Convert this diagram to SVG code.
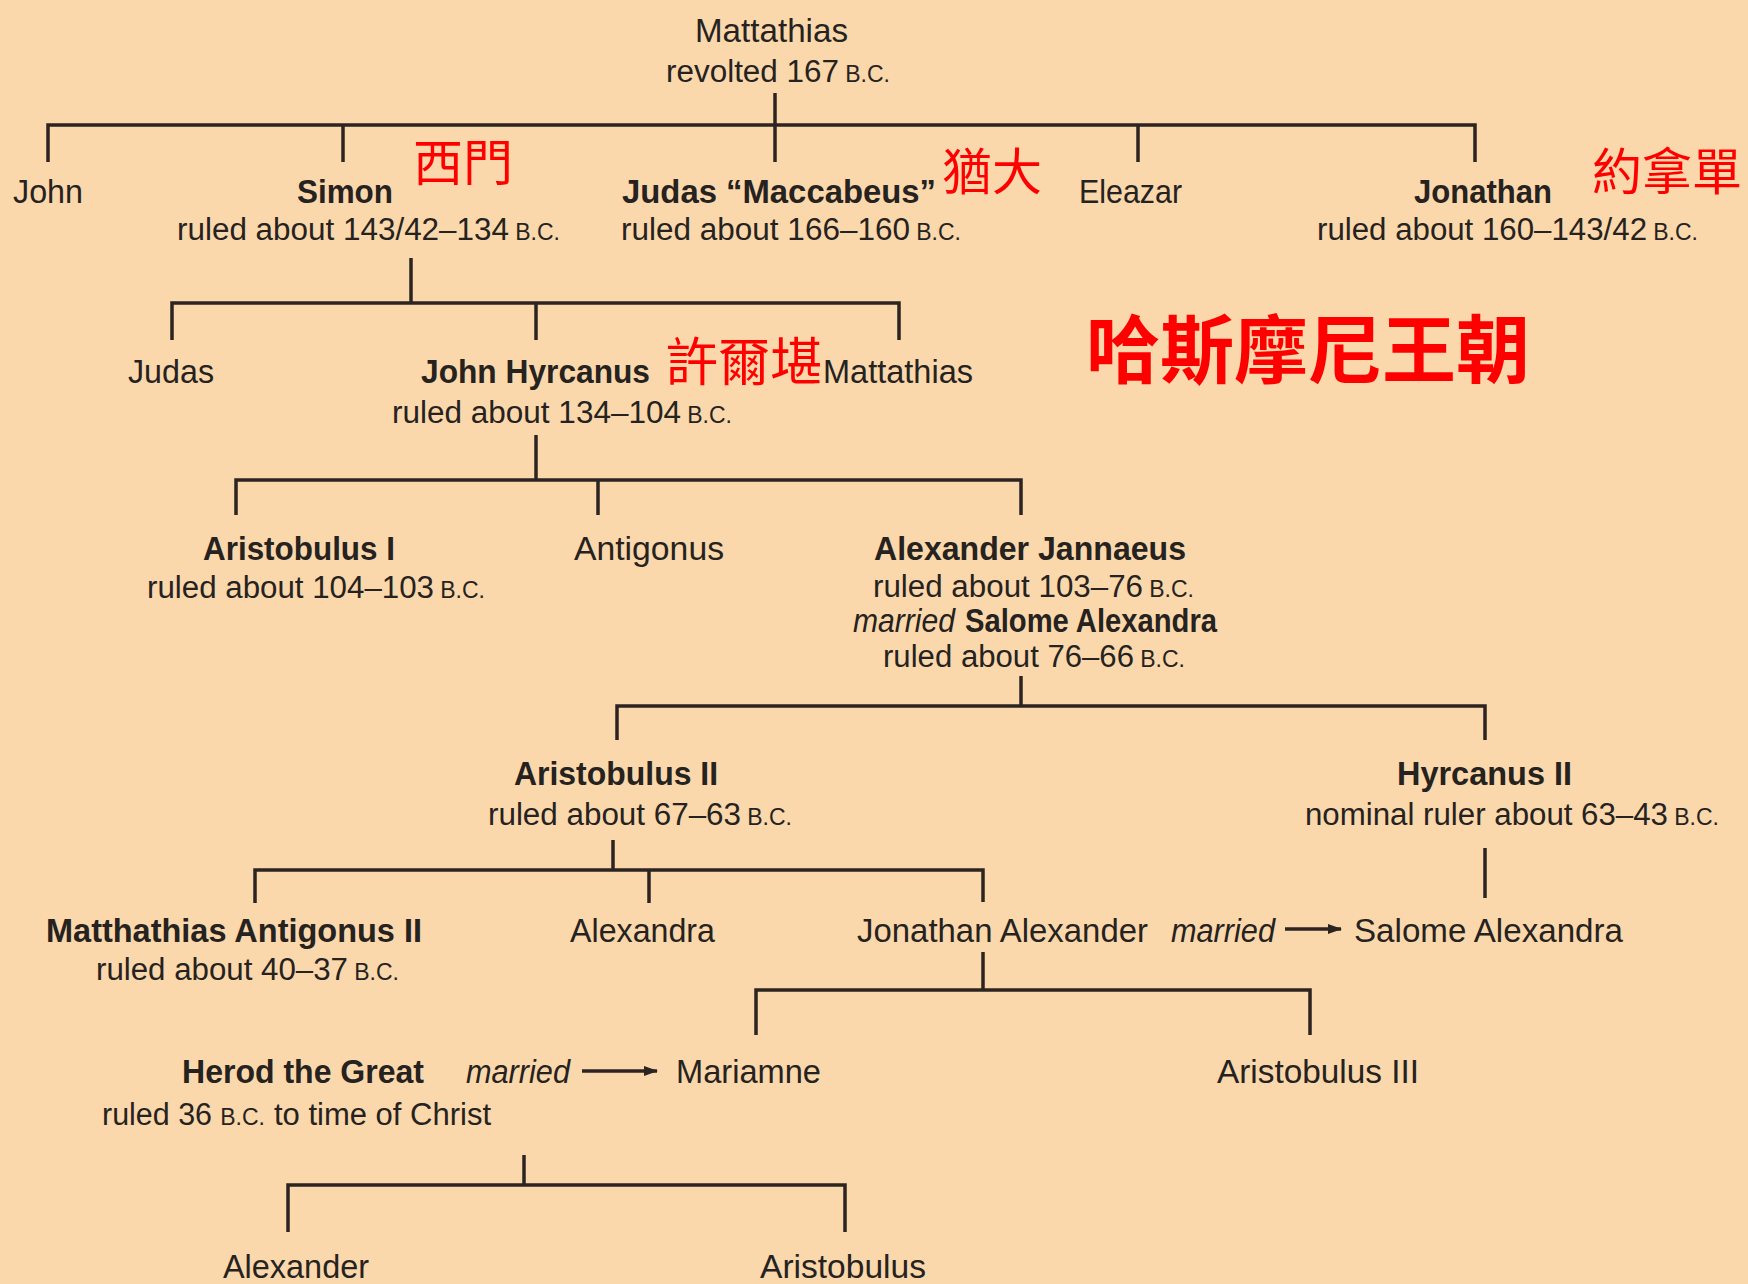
<svg xmlns="http://www.w3.org/2000/svg" width="1748" height="1284" viewBox="0 0 1748 1284">
<style>
text{font-family:"Liberation Sans",Arial,sans-serif;font-size:33px;fill:#262220}
.r{font-size:31px}
.b{font-weight:bold}
.i{font-style:italic}
.sc{font-size:23px;text-anchor:end}
.zh{font-family:"Noto Sans CJK TC","Noto Sans CJK SC",sans-serif;fill:#ff0000;font-size:50px}
.zhb{font-family:"Noto Sans CJK TC","Noto Sans CJK SC",sans-serif;fill:#ff0000;font-size:74px;font-weight:bold}
.ln{fill:none;stroke:#2b2420;stroke-width:3.5}
.ar{fill:none;stroke:#2b2420;stroke-width:3.5;marker-end:url(#ah)}
</style>
<defs>
<marker id="ah" markerUnits="userSpaceOnUse" markerWidth="14" markerHeight="12" refX="13" refY="6" orient="auto">
<path d="M0,1 L14,6 L0,11 z" fill="#2b2420"/>
</marker>
</defs>
<rect width="1748" height="1284" fill="#fad8ac"/>
<g id="connectors">
<path class="ln" d="M48,162 V125 H1475 V162"/>
<path class="ln" d="M343,125 V162"/>
<path class="ln" d="M775,93 V162"/>
<path class="ln" d="M1138,125 V162"/>
<path class="ln" d="M411,258 V303"/>
<path class="ln" d="M172,340 V303 H899 V340"/>
<path class="ln" d="M536,303 V340"/>
<path class="ln" d="M536,435 V480"/>
<path class="ln" d="M236,515 V480 H1021 V515"/>
<path class="ln" d="M598,480 V515"/>
<path class="ln" d="M1021,676 V706"/>
<path class="ln" d="M617,740 V706 H1485 V740"/>
<path class="ln" d="M613,840 V870"/>
<path class="ln" d="M255,903 V870 H983 V902"/>
<path class="ln" d="M649,870 V903"/>
<path class="ln" d="M1485,848 V898"/>
<path class="ln" d="M983,952 V990"/>
<path class="ln" d="M756,1035 V990 H1310 V1035"/>
<path class="ln" d="M524,1155 V1185"/>
<path class="ln" d="M288,1232 V1185 H845 V1232"/>
<path class="ar" d="M1285,929 H1341"/>
<path class="ar" d="M582,1071 H657"/>
</g>
<g id="n-mattathias">
<text x="695" y="42" textLength="153" lengthAdjust="spacingAndGlyphs">Mattathias</text>
<text class="r" x="666" y="82" textLength="173" lengthAdjust="spacingAndGlyphs">revolted 167</text>
<text class="sc" x="890" y="82">B.C.</text>
</g>
<g id="n-john"><text x="13" y="203" textLength="70" lengthAdjust="spacingAndGlyphs">John</text></g>
<g id="n-simon">
<text class="b" x="297" y="203" textLength="96" lengthAdjust="spacingAndGlyphs">Simon</text>
<text class="r" x="177" y="240" textLength="332" lengthAdjust="spacingAndGlyphs">ruled about 143/42–134</text>
<text class="sc" x="560" y="240">B.C.</text>
<text class="zh" x="413" y="181">西門</text>
</g>
<g id="n-judas-maccabeus">
<text class="b" x="622" y="203" textLength="314" lengthAdjust="spacingAndGlyphs">Judas “Maccabeus”</text>
<text class="r" x="621" y="240" textLength="289" lengthAdjust="spacingAndGlyphs">ruled about 166–160</text>
<text class="sc" x="961" y="240">B.C.</text>
<text class="zh" x="942" y="190">猶大</text>
</g>
<g id="n-eleazar"><text x="1079" y="203" textLength="103" lengthAdjust="spacingAndGlyphs">Eleazar</text></g>
<g id="n-jonathan">
<text class="b" x="1414" y="203" textLength="138" lengthAdjust="spacingAndGlyphs">Jonathan</text>
<text class="r" x="1317" y="240" textLength="330" lengthAdjust="spacingAndGlyphs">ruled about 160–143/42</text>
<text class="sc" x="1698" y="240">B.C.</text>
<text class="zh" x="1592" y="190">約拿單</text>
</g>
<g id="title"><text class="zhb" x="1086" y="377">哈斯摩尼王朝</text></g>
<g id="n-judas"><text x="128" y="383" textLength="86" lengthAdjust="spacingAndGlyphs">Judas</text></g>
<g id="n-john-hyrcanus">
<text class="b" x="421" y="383" textLength="229" lengthAdjust="spacingAndGlyphs">John Hyrcanus</text>
<text class="r" x="392" y="423" textLength="289" lengthAdjust="spacingAndGlyphs">ruled about 134–104</text>
<text class="sc" x="732" y="423">B.C.</text>
<text class="zh" x="666" y="381" style="font-size:52px">許爾堪</text>
</g>
<g id="n-mattathias2"><text x="823" y="383" textLength="150" lengthAdjust="spacingAndGlyphs">Mattathias</text></g>
<g id="n-aristobulus1">
<text class="b" x="203" y="560" textLength="192" lengthAdjust="spacingAndGlyphs">Aristobulus I</text>
<text class="r" x="147" y="598" textLength="287" lengthAdjust="spacingAndGlyphs">ruled about 104–103</text>
<text class="sc" x="485" y="598">B.C.</text>
</g>
<g id="n-antigonus"><text x="574" y="560" textLength="150" lengthAdjust="spacingAndGlyphs">Antigonus</text></g>
<g id="n-alexander-jannaeus">
<text class="b" x="874" y="560" textLength="312" lengthAdjust="spacingAndGlyphs">Alexander Jannaeus</text>
<text class="r" x="873" y="597" textLength="270" lengthAdjust="spacingAndGlyphs">ruled about 103–76</text>
<text class="sc" x="1194" y="597">B.C.</text>
<text class="i" x="853" y="632" textLength="102" lengthAdjust="spacingAndGlyphs">married</text>
<text class="b" x="965" y="632" textLength="252" lengthAdjust="spacingAndGlyphs">Salome Alexandra</text>
<text class="r" x="883" y="667" textLength="251" lengthAdjust="spacingAndGlyphs">ruled about 76–66</text>
<text class="sc" x="1185" y="667">B.C.</text>
</g>
<g id="n-aristobulus2">
<text class="b" x="514" y="785" textLength="204" lengthAdjust="spacingAndGlyphs">Aristobulus II</text>
<text class="r" x="488" y="825" textLength="253" lengthAdjust="spacingAndGlyphs">ruled about 67–63</text>
<text class="sc" x="792" y="825">B.C.</text>
</g>
<g id="n-hyrcanus2">
<text class="b" x="1397" y="785" textLength="175" lengthAdjust="spacingAndGlyphs">Hyrcanus II</text>
<text class="r" x="1305" y="825" textLength="363" lengthAdjust="spacingAndGlyphs">nominal ruler about 63–43</text>
<text class="sc" x="1719" y="825">B.C.</text>
</g>
<g id="n-matthathias-antigonus2">
<text class="b" x="46" y="942" textLength="376" lengthAdjust="spacingAndGlyphs">Matthathias Antigonus II</text>
<text class="r" x="96" y="980" textLength="252" lengthAdjust="spacingAndGlyphs">ruled about 40–37</text>
<text class="sc" x="399" y="980">B.C.</text>
</g>
<g id="n-alexandra"><text x="570" y="942" textLength="145" lengthAdjust="spacingAndGlyphs">Alexandra</text></g>
<g id="n-jonathan-alexander">
<text x="857" y="942" textLength="291" lengthAdjust="spacingAndGlyphs">Jonathan Alexander</text>
<text class="i" x="1171" y="942" textLength="104" lengthAdjust="spacingAndGlyphs">married</text>
</g>
<g id="n-salome-alexandra"><text x="1354" y="942" textLength="269" lengthAdjust="spacingAndGlyphs">Salome Alexandra</text></g>
<g id="n-herod">
<text class="b" x="182" y="1083" textLength="242" lengthAdjust="spacingAndGlyphs">Herod the Great</text>
<text class="i" x="466" y="1083" textLength="104" lengthAdjust="spacingAndGlyphs">married</text>
<text class="r" x="102" y="1125" textLength="110" lengthAdjust="spacingAndGlyphs">ruled 36</text>
<text class="sc" x="265" y="1125">B.C.</text>
<text class="r" x="274" y="1125" textLength="217" lengthAdjust="spacingAndGlyphs">to time of Christ</text>
</g>
<g id="n-mariamne"><text x="676" y="1083" textLength="145" lengthAdjust="spacingAndGlyphs">Mariamne</text></g>
<g id="n-aristobulus3"><text x="1217" y="1083" textLength="202" lengthAdjust="spacingAndGlyphs">Aristobulus III</text></g>
<g id="n-alexander"><text x="223" y="1278" textLength="146" lengthAdjust="spacingAndGlyphs">Alexander</text></g>
<g id="n-aristobulus"><text x="760" y="1278" textLength="166" lengthAdjust="spacingAndGlyphs">Aristobulus</text></g>
</svg>
